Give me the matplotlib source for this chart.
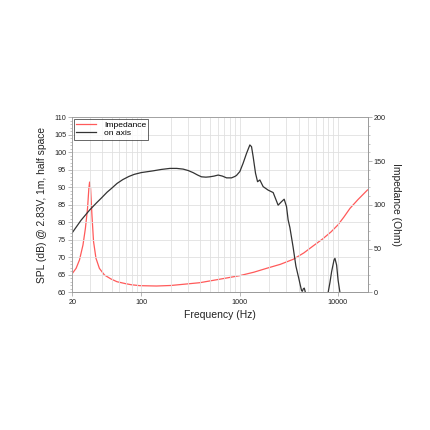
import numpy as np
import matplotlib
matplotlib.use("Agg")
import matplotlib.pyplot as plt
from matplotlib.ticker import FixedLocator, MultipleLocator, NullFormatter, LogLocator

plt.rcParams['font.family'] = ['Liberation Sans', 'DejaVu Sans']

# SPL on axis (dB)
spl_freq = [20, 24.5, 29.9, 35, 39.3, 45, 50, 56.8, 65, 75, 85, 100, 132, 160, 196,
            230, 267, 300, 337, 375, 410, 455, 498, 550, 606, 670, 738, 829, 896, 932,
            1007, 1088, 1178, 1273, 1324, 1376, 1454, 1525, 1609, 1737, 1953, 2197,
            2467, 2673, 2842, 3003, 3118, 3250, 3500, 3740, 4000, 4150, 4270, 4350,
            4450, 4550, 4650, 4700, 4800,
            7800, 7960, 8300, 8630, 9125, 9330, 9700, 10040, 10480, 10700]
spl_db = [77.1, 80.6, 83.5, 85.5, 86.9, 88.6, 89.7, 91.1, 92.2, 93.1, 93.7, 94.2, 94.7,
          95.1, 95.4, 95.4, 95.2, 94.8, 94.2, 93.5, 93.0, 92.9, 93.0, 93.2, 93.5, 93.2,
          92.7, 92.7, 93.1, 93.4, 94.5, 96.9, 99.7, 102.1, 101.6, 98.7, 94.0, 91.6,
          92.1, 90.2, 89.2, 88.5, 84.9, 85.9, 86.6, 84.5, 80.7, 78.5, 73.0, 67.5, 64.0,
          62.0, 60.5, 60.3, 61.0, 61.2, 60.2, 58.0, 55.0,
          55.0, 60.0, 62.8, 65.9, 69.2, 69.7, 67.8, 63.5, 60.0, 57.0]

# Impedance (Ohm)
imp_freq = [20, 21.8, 23.6, 25.6, 27.1, 28.5, 29.4, 29.9, 30.6, 31.6, 32.8, 34.7, 37.6,
            42.3, 49.4, 56.8, 70, 80, 97, 143, 200, 288, 395, 631, 1000, 1400, 1882,
            2600, 3510, 4500, 5600, 7000, 8500, 10000, 11500, 13280, 16000, 20000]
imp_ohm = [21.7, 27.4, 37, 54, 73, 96, 119, 126, 119, 88, 58, 39, 27.4,
           19.8, 15.2, 12.1, 9.8, 8.6, 7.6, 7.2, 7.8, 9.5, 11, 15, 19, 23, 27.4,
           32, 37.7, 45, 53, 61, 69, 77, 86, 96, 106, 117]

x_ticks = [20, 100, 1000, 10000]
x_ticklabels = ['20', '100', '1000', '10000']

fig = plt.figure(figsize=(4.3, 4.3), dpi=100)
ax = fig.add_axes([0.1684, 0.3202, 0.6863, 0.407])
ax2 = ax.twinx()

grid_c = '#e0e0e0'
spine_c = '#9a9a9a'
text_c = '#222222'

ax.set_xscale('log')
ax.set_xlim(20, 20000)
ax.set_ylim(60, 110)
ax2.set_ylim(0, 200)

ax.xaxis.set_major_locator(FixedLocator(x_ticks))
ax.set_xticklabels(x_ticklabels)
ax.xaxis.set_minor_locator(LogLocator(base=10, subs=np.arange(2, 10), numticks=20))
ax.xaxis.set_minor_formatter(NullFormatter())
ax.yaxis.set_major_locator(MultipleLocator(5))
ax.yaxis.set_minor_locator(MultipleLocator(1))
ax2.yaxis.set_major_locator(MultipleLocator(50))
ax2.yaxis.set_minor_locator(MultipleLocator(10))

ax.grid(True, which='major', axis='both', color=grid_c, lw=0.6)
ax.grid(True, which='minor', axis='x', color=grid_c, lw=0.6)
ax.set_axisbelow(True)

for a in (ax, ax2):
    for s in a.spines.values():
        s.set_color(spine_c)
        s.set_linewidth(0.6)
    a.tick_params(which='major', length=3, width=0.5, color=spine_c, labelsize=5.2, labelcolor=text_c, pad=1.5)
    a.tick_params(which='minor', length=1.5, width=0.4, color=spine_c)
ax.tick_params(axis='x', which='minor', length=0)

l1, = ax2.plot(imp_freq, imp_ohm, color='#ff5a5a', lw=0.9, label='Impedance')
l2, = ax.plot(spl_freq, spl_db, color='#333333', lw=0.9, label='on axis')
ax.set_zorder(ax2.get_zorder() + 1)
ax.patch.set_visible(False)

ax.set_xlabel('Frequency (Hz)', fontsize=7.5, color=text_c, labelpad=3)
ax.set_ylabel('SPL (dB) @ 2.83V, 1m, half space', fontsize=7.4, color=text_c, labelpad=5)
ax2.set_ylabel('Impedance (Ohm)', fontsize=7.4, color=text_c, rotation=270, labelpad=11)

leg = ax.legend(handles=[l1, l2], loc='upper left', fontsize=6.1, frameon=True,
                fancybox=False, edgecolor='#222222', borderpad=0.25, handlelength=2.4,
                handletextpad=0.9, borderaxespad=0.15, labelspacing=0.1)
leg.get_frame().set_linewidth(0.6)

fig.savefig('out.png', dpi=100)
